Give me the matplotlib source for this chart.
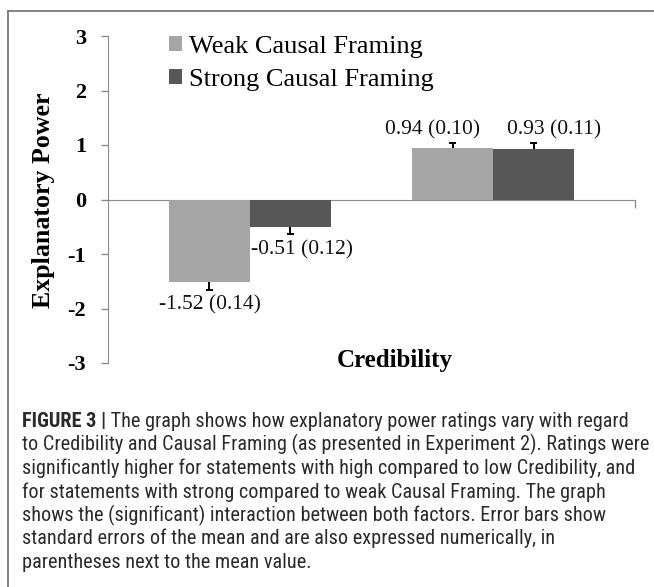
import matplotlib
matplotlib.use("Agg")
import matplotlib.pyplot as plt
from matplotlib.lines import Line2D
import numpy as np

# ---------------- data ----------------
categories = ["Low Credibility", "High Credibility"]
series_names = ["Weak Causal Framing", "Strong Causal Framing"]
weak_means = [-1.52, 0.94]
weak_se = [0.14, 0.10]
strong_means = [-0.51, 0.93]
strong_se = [0.12, 0.11]
y_ticks = [-3, -2, -1, 0, 1, 2, 3]
y_label = "Explanatory Power"
x_label = "Credibility"
caption_bold = "FIGURE 3 |"
caption_lines = [
    " The graph shows how explanatory power ratings vary with regard",
    "to Credibility and Causal Framing (as presented in Experiment 2). Ratings were",
    "significantly higher for statements with high compared to low Credibility, and",
    "for statements with strong compared to weak Causal Framing. The graph",
    "shows the (significant) interaction between both factors. Error bars show",
    "standard errors of the mean and are also expressed numerically, in",
    "parentheses next to the mean value.",
]

# ---------------- style ----------------
plt.rcParams['axes.unicode_minus'] = False
SERIF = ['Liberation Serif', 'DejaVu Serif']
SANS = ['Liberation Sans Narrow', 'Roboto Condensed', 'Liberation Sans', 'DejaVu Sans']
c_weak = '#a5a5a5'
c_strong = '#575757'
c_axis = '#8c8c8c'

W, H = 654, 587
fig = plt.figure(figsize=(W / 100, H / 100), dpi=100)
fig.patch.set_facecolor('white')

ax = fig.add_axes([108 / W, 1 - 363 / H, 527 / W, 327 / H])
x = np.arange(len(categories))
bw = 0.333
xl = (-0.584, 1.584)

b1 = ax.bar(x - bw / 2, weak_means, bw, color=c_weak, label=series_names[0], zorder=2)
b2 = ax.bar(x + bw / 2, strong_means, bw, color=c_strong, label=series_names[1], zorder=2)

# one-sided error bars
cap = 0.016
label_offsets = [[(0, -15), (-20, 13)], [(12, -16), (21, 13)]]  # pixels
for si, (means, ses, xs) in enumerate([(weak_means, weak_se, x - bw / 2),
                                       (strong_means, strong_se, x + bw / 2)]):
    for i, (m, e, xx) in enumerate(zip(means, ses, xs)):
        end = m + np.sign(m) * e
        ax.vlines(xx, m, end, color='black', lw=1.4, zorder=3)
        ax.hlines(end, xx - cap, xx + cap, color='black', lw=1.4, zorder=3)
        dx, dy = label_offsets[si][i]
        ax.annotate(f"{m:.2f} ({e:.2f})", xy=(xx, end), xycoords='data',
                    xytext=(dx, dy), textcoords='offset pixels',
                    ha='center', va='center', fontsize=15.5,
                    family=SERIF, color='#111111')

ax.set_xlim(*xl)
ax.set_ylim(-3, 3)
ax.set_yticks(y_ticks)
ax.set_yticklabels([str(t) for t in y_ticks], fontsize=16, fontweight='bold', family=SERIF)
ax.tick_params(axis='y', direction='out', length=5, width=1, color=c_axis, pad=10.8)
ax.set_xticks([xl[1]])
ax.set_xticklabels([''])
ax.tick_params(axis='x', direction='out', length=6, width=1, color=c_axis)

for s in ['top', 'right']:
    ax.spines[s].set_visible(False)
ax.spines['bottom'].set_position(('data', 0))
ax.spines['bottom'].set_color(c_axis)
ax.spines['left'].set_color(c_axis)
ax.spines['bottom'].set_zorder(1)
ax.set_facecolor('none')

# x label
ax.text((395 - 108) / 527, (363 - 361) / 327, x_label, transform=ax.transAxes,
        ha='center', va='center', fontsize=18, fontweight='bold', family=SERIF)
# y label
fig.text(44 / W, 1 - 200 / H, y_label, rotation=90, ha='center', va='center',
         fontsize=18.6, fontweight='bold', family=SERIF)

# legend
leg = ax.legend(handles=[b1, b2], loc='upper left',
                bbox_to_anchor=(169 / W, 1 - 36 / H), bbox_transform=fig.transFigure,
                frameon=False, prop={'family': SERIF, 'size': 19},
                handlelength=0.49, handleheight=0.49, handletextpad=0.25,
                labelspacing=0.42, borderpad=0, borderaxespad=0)

# frame
fig.add_artist(Line2D([7.5 / W, 7.5 / W], [1 - 11 / H, 0], transform=fig.transFigure,
                      color='#7a7a7a', lw=1.3))
fig.add_artist(Line2D([7.5 / W, 1.0], [1 - 11 / H, 1 - 11 / H], transform=fig.transFigure,
                      color='#7a7a7a', lw=1.3))

# caption
fig.canvas.draw()
renderer = fig.canvas.get_renderer()
base_fs = 12.0
cap_color = '#2b2b2b'
tb = fig.text(0, 0, caption_bold, fontsize=base_fs, fontweight='bold', family=SANS)
tr = fig.text(0, 0, caption_lines[0], fontsize=base_fs, family=SANS)
t2 = fig.text(0, 0, caption_lines[1], fontsize=base_fs, family=SANS)
w1 = tb.get_window_extent(renderer).width + tr.get_window_extent(renderer).width
w2 = t2.get_window_extent(renderer).width
tb.remove(); tr.remove(); t2.remove()
fs = base_fs * min(622 / w1, 624 / w2)

x0 = 22
base0 = 427
step = 23.5
tb = fig.text(x0 / W, 1 - base0 / H, caption_bold, fontsize=fs, fontweight='bold',
              family=SANS, va='baseline', ha='left', color=cap_color)
wb = tb.get_window_extent(renderer).width
for k, line in enumerate(caption_lines):
    xx = x0 + (wb if k == 0 else 0)
    fig.text(xx / W, 1 - (base0 + k * step) / H, line, fontsize=fs, family=SANS,
             va='baseline', ha='left', color=cap_color)

fig.savefig('out.png', dpi=100, facecolor='white')
